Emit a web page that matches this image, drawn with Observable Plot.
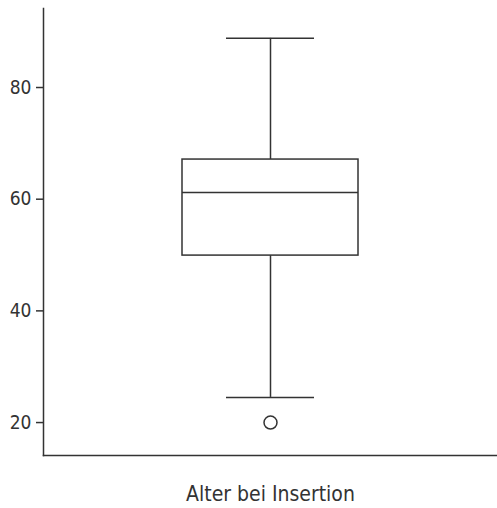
<!DOCTYPE html>
<html>
<head>
<meta charset="utf-8">
<script src="https://cdn.jsdelivr.net/npm/d3@7"></script>
<script src="https://cdn.jsdelivr.net/npm/@observablehq/plot@0.6"></script>
<style>
  html, body { margin: 0; padding: 0; background: #fff; }
</style>
</head>
<body>
<div id="chart"></div>
<script>
const categories = ["Alter bei Insertion"];
const whiskerLow = [24.5];
const q1 = [49.9];
const median = [61.2];
const q3 = [67.1];
const whiskerHigh = [88.8];
const outliers = [20];
const yTicks = [20, 40, 60, 80];

const stats = categories.map((c, i) => ({
  cat: c, lo: whiskerLow[i], q1: q1[i], med: median[i], q3: q3[i], hi: whiskerHigh[i]
}));
const outlierData = outliers.map(v => ({cat: categories[0], v}));

const ink = "#333";
const font = "'DejaVu Sans Condensed', 'DejaVu Sans', sans-serif";

const chart = Plot.plot({
  width: 497,
  height: 508,
  marginLeft: 43,
  marginRight: 0,
  marginTop: 8,
  marginBottom: 53,
  style: {fontFamily: font, color: ink, background: "#fff"},
  x: {type: "band", domain: categories, padding: 0.44, label: null},
  y: {domain: [14.1, 94.15], label: null},
  marks: [
    Plot.frame({anchor: "left", stroke: ink, strokeWidth: 1.5}),
    Plot.frame({anchor: "bottom", stroke: ink, strokeWidth: 1.5}),
    Plot.axisY({ticks: yTicks, tickSize: 7, tickPadding: 5, fontSize: 19, stroke: ink, strokeWidth: 1.5, fill: ink, label: null}),
    Plot.axisX({tickSize: 0, tickPadding: 31, fontSize: 21, fill: ink, label: null}),
    Plot.ruleX(stats, {x: "cat", y1: "lo", y2: "q1", stroke: ink, strokeWidth: 1.5}),
    Plot.ruleX(stats, {x: "cat", y1: "q3", y2: "hi", stroke: ink, strokeWidth: 1.5}),
    Plot.barY(stats, {x: "cat", y1: "q1", y2: "q3", fill: "#fff", stroke: ink, strokeWidth: 1.5}),
    Plot.tickY(stats, {x: "cat", y: "med", stroke: ink, strokeWidth: 1.5}),
    Plot.tickY(stats, {x: "cat", y: "lo", stroke: ink, strokeWidth: 1.5, insetLeft: 44, insetRight: 44}),
    Plot.tickY(stats, {x: "cat", y: "hi", stroke: ink, strokeWidth: 1.5, insetLeft: 44, insetRight: 44}),
    Plot.dot(outlierData, {x: "cat", y: "v", r: 6.5, stroke: ink, strokeWidth: 1.5, fill: "none"})
  ]
});
document.getElementById("chart").appendChild(chart);
</script>
</body>
</html>
